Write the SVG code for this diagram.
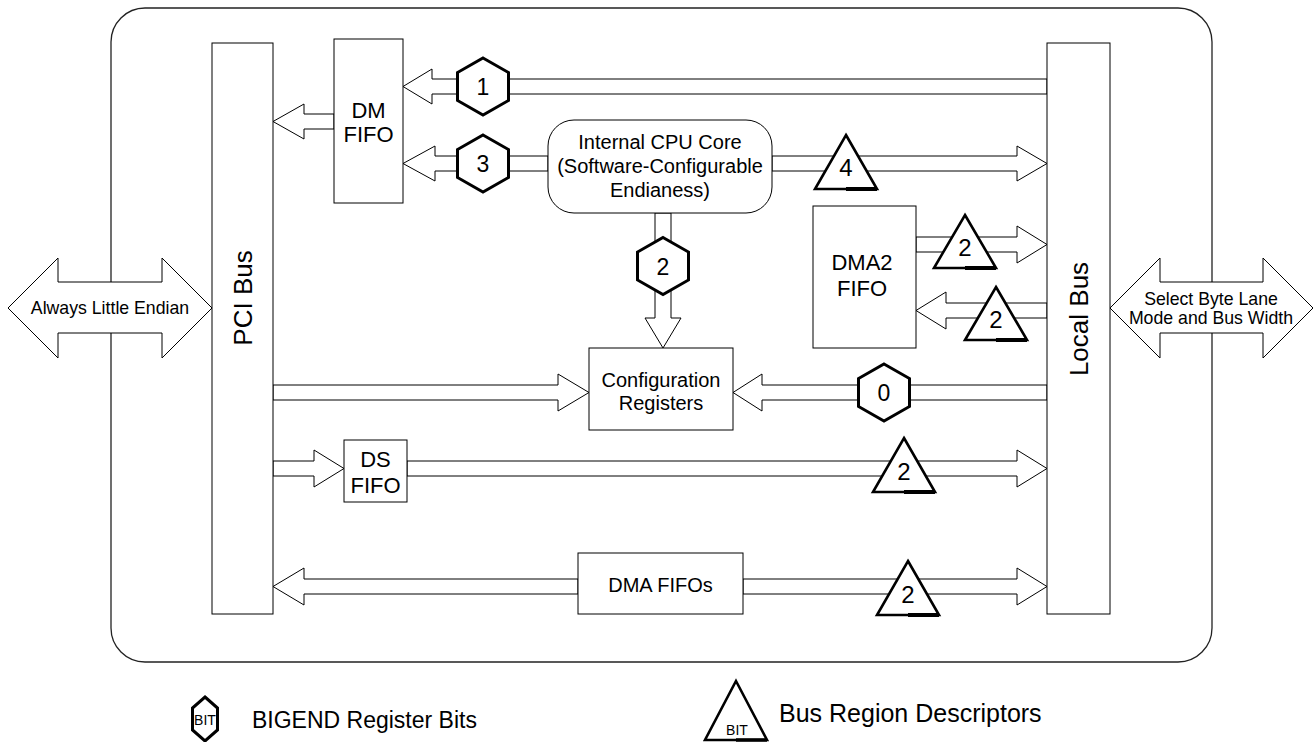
<svg xmlns="http://www.w3.org/2000/svg" width="1314" height="742" viewBox="0 0 1314 742">
<style>
text{font-family:"Liberation Sans",Arial,sans-serif;fill:#000}
.box{fill:#fff;stroke:#000;stroke-width:1}
.arr{fill:#fff;stroke:#000;stroke-width:1;stroke-linejoin:miter}
.hex{fill:#fff;stroke:#000;stroke-width:3;stroke-linejoin:miter}
.tri{fill:#fff;stroke:#000;stroke-width:2.6;stroke-linejoin:miter}
.t20{font-size:20px;text-anchor:middle}
.t22{font-size:22px;text-anchor:middle}
.t17{font-size:17.7px;text-anchor:middle}
.bus{font-size:26px;text-anchor:middle}
.dg{font-size:23px;text-anchor:middle}
.dt{font-size:24px;text-anchor:middle}
</style>
<rect x="0" y="0" width="1314" height="742" fill="#fff"/>
<g id="outer"><rect x="111" y="8" width="1101" height="654" rx="34" ry="34" fill="none" stroke="#222" stroke-width="1.3"/></g>

<g id="connectors">
  <polygon class="arr" points="403,86.5 432,69 432,79 1047,79 1047,94 432,94 432,104"/>
  <polygon class="arr" points="273,121.5 304,104 304,114 334,114 334,129 304,129 304,139"/>
  <polygon class="arr" points="403,163.5 435,146 435,156 548,156 548,171 435,171 435,181"/>
  <polygon class="arr" points="772,156 1017,156 1017,146 1047,163.5 1017,181 1017,171 772,171"/>
  <polygon class="arr" points="655,213 671,213 671,318 681,318 663,348 645,318 655,318"/>
  <polygon class="arr" points="916,237 1017,237 1017,226 1047,244.5 1017,263 1017,252 916,252"/>
  <polygon class="arr" points="916,310.5 946,292 946,303 1047,303 1047,318 946,318 946,329"/>
  <polygon class="arr" points="273,385 558,385 558,374 589,392.5 558,411 558,400 273,400"/>
  <polygon class="arr" points="733,392.5 762,374 762,385 1047,385 1047,400 762,400 762,411"/>
  <polygon class="arr" points="273,461 314,461 314,450 344,468.5 314,487 314,476 273,476"/>
  <polygon class="arr" points="407,461 1017,461 1017,450 1047,468.5 1017,487 1017,476 407,476"/>
  <polygon class="arr" points="273,586.5 304,568 304,579 578,579 578,594 304,594 304,605"/>
  <polygon class="arr" points="743,579 1017,579 1017,568 1047,586.5 1017,605 1017,594 743,594"/>
</g>

<g id="pci-bus">
  <rect class="box" x="212" y="43" width="61" height="571"/>
  <text class="bus" transform="translate(252,298) rotate(-90)">PCI Bus</text>
</g>
<g id="local-bus">
  <rect class="box" x="1047" y="43" width="63" height="571"/>
  <text class="bus" transform="translate(1088,319) rotate(-90)">Local Bus</text>
</g>

<g id="always-little-endian">
  <polygon class="arr" points="8,308 58,258 58,282 162,282 162,258 212,308 162,358 162,333 58,333 58,358"/>
  <text class="t17" x="110" y="314">Always Little Endian</text>
</g>
<g id="select-byte-lane">
  <polygon class="arr" points="1110,308 1160,258 1160,282 1263,282 1263,258 1313,308 1263,358 1263,333 1160,333 1160,358"/>
  <text class="t17" x="1211" y="305">Select Byte Lane</text>
  <text class="t17" x="1211" y="324">Mode and Bus Width</text>
</g>

<g id="dm-fifo">
  <rect class="box" x="334" y="39" width="69" height="164"/>
  <text class="t22" x="368.5" y="118">DM</text>
  <text class="t22" x="368.5" y="142">FIFO</text>
</g>
<g id="cpu-core">
  <rect class="box" x="548" y="120" width="224" height="93" rx="26" ry="26"/>
  <text class="t20" x="660" y="149">Internal CPU Core</text>
  <text class="t20" x="660" y="173">(Software-Configurable</text>
  <text class="t20" x="660" y="197">Endianess)</text>
</g>
<g id="dma2-fifo">
  <rect class="box" x="813" y="206" width="103" height="142"/>
  <text class="t22" x="862" y="270">DMA2</text>
  <text class="t22" x="862" y="296">FIFO</text>
</g>
<g id="config-registers">
  <rect class="box" x="589" y="348" width="144" height="82"/>
  <text class="t20" x="661" y="387">Configuration</text>
  <text class="t20" x="661" y="410">Registers</text>
</g>
<g id="ds-fifo">
  <rect class="box" x="344" y="440" width="63" height="62"/>
  <text class="t22" x="375.5" y="467">DS</text>
  <text class="t22" x="375.5" y="493">FIFO</text>
</g>
<g id="dma-fifos">
  <rect class="box" x="578" y="553" width="165" height="61"/>
  <text class="t20" x="660.5" y="592">DMA FIFOs</text>
</g>

<g id="hex-1">
  <polygon class="hex" points="483,58 508.5,72.5 508.5,100.5 483,115 457.5,100.5 457.5,72.5"/>
  <text class="dg" x="483" y="95">1</text>
</g>
<g id="hex-3">
  <polygon class="hex" points="483,135 508.5,149.5 508.5,177.5 483,192 457.5,177.5 457.5,149.5"/>
  <text class="dg" x="483" y="172">3</text>
</g>
<g id="hex-2">
  <polygon class="hex" points="663,237.5 688.5,252 688.5,280 663,294.5 637.5,280 637.5,252"/>
  <text class="dg" x="663" y="274.5">2</text>
</g>
<g id="hex-0">
  <polygon class="hex" points="884,364 909.5,378.5 909.5,406.5 884,421 858.5,406.5 858.5,378.5"/>
  <text class="dg" x="884" y="401">0</text>
</g>

<g id="tri-4">
  <polygon class="tri" points="846,135 877,189 815,189"/>
  <line x1="846" y1="189" x2="877" y2="189" stroke="#000" stroke-width="4"/>
  <text class="dt" x="846" y="176">4</text>
</g>
<g id="tri-2a">
  <polygon class="tri" points="965,215 996,268 934,268"/>
  <line x1="965" y1="268" x2="996" y2="268" stroke="#000" stroke-width="4"/>
  <text class="dt" x="965" y="256">2</text>
</g>
<g id="tri-2b">
  <polygon class="tri" points="996,287 1027,340 965,340"/>
  <line x1="996" y1="340" x2="1027" y2="340" stroke="#000" stroke-width="4"/>
  <text class="dt" x="996" y="328">2</text>
</g>
<g id="tri-2c">
  <polygon class="tri" points="904,438 935,492 873,492"/>
  <line x1="904" y1="492" x2="935" y2="492" stroke="#000" stroke-width="4"/>
  <text class="dt" x="904" y="480">2</text>
</g>
<g id="tri-2d">
  <polygon class="tri" points="908,561 939,615 877,615"/>
  <line x1="908" y1="615" x2="939" y2="615" stroke="#000" stroke-width="4"/>
  <text class="dt" x="908" y="603">2</text>
</g>

<g id="legend-bigend">
  <polygon class="hex" stroke-width="2" points="205,697 217.5,708 217.5,730 205,741 192.5,730 192.5,708"/>
  <text x="205" y="725" font-size="14" text-anchor="middle">BIT</text>
  <text x="252" y="728" font-size="23">BIGEND Register Bits</text>
</g>
<g id="legend-bus-region">
  <polygon class="tri" stroke-width="2.4" points="736,681 767,740 705,740"/>
  <line x1="736" y1="740" x2="767" y2="740" stroke="#000" stroke-width="3.5"/>
  <text x="737" y="735" font-size="14" text-anchor="middle">BIT</text>
  <text x="779" y="722" font-size="25">Bus Region Descriptors</text>
</g>
</svg>
